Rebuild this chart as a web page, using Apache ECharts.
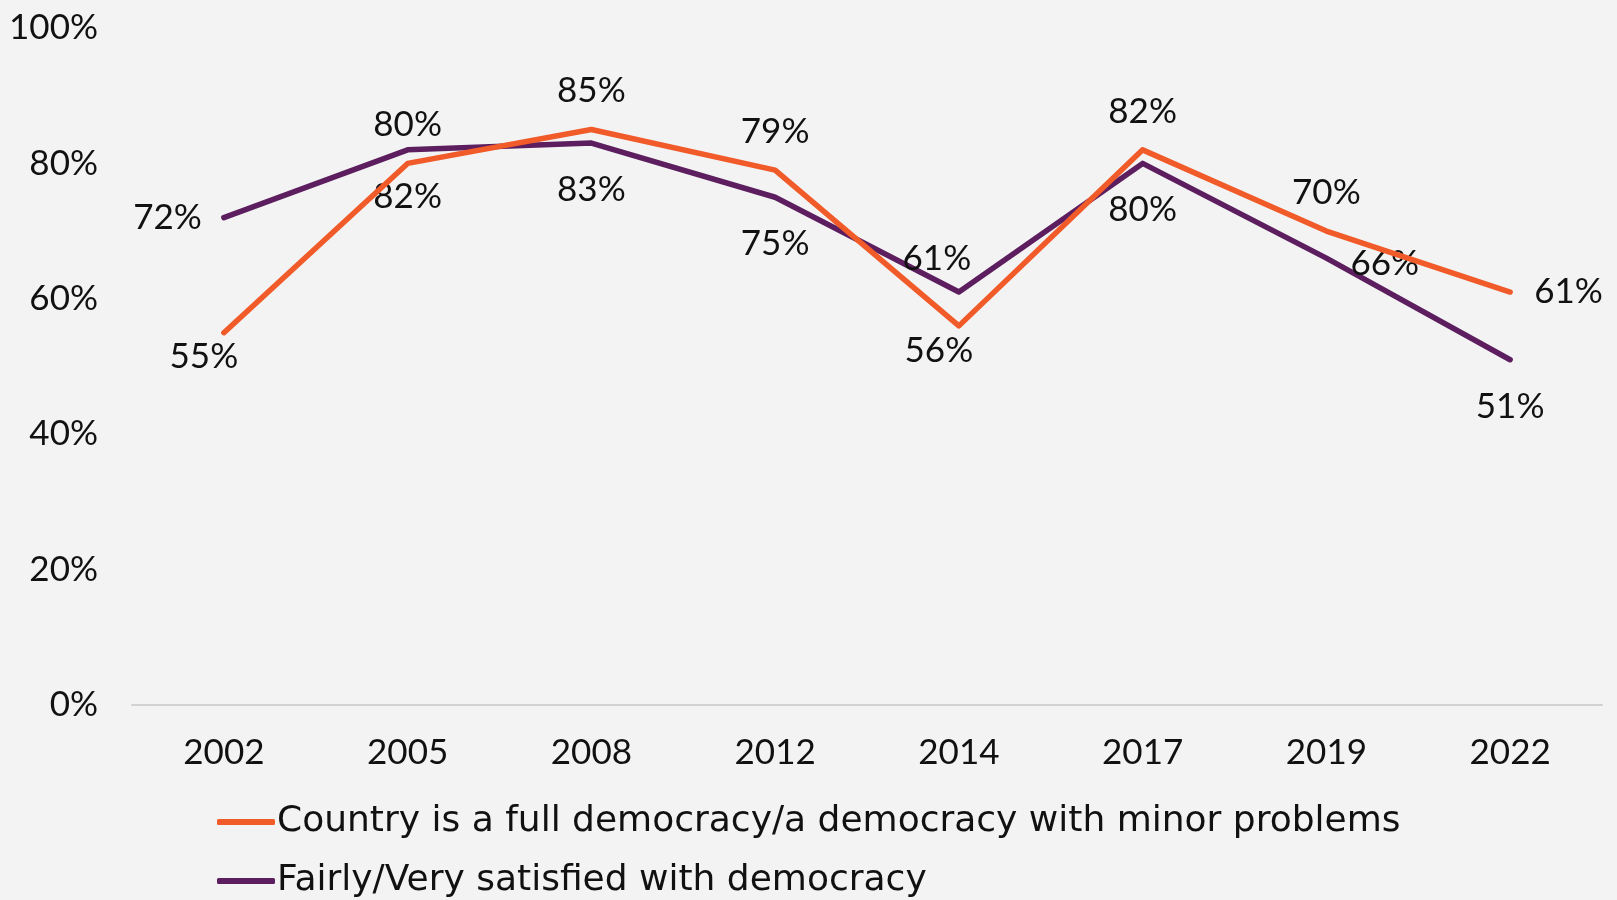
<!DOCTYPE html>
<html>
<head>
<meta charset="utf-8">
<script src="https://cdn.jsdelivr.net/npm/echarts@6/dist/echarts.min.js"></script>
<style>
  html, body { margin:0; padding:0; background:#f3f3f3; }
  #chart { width:1617px; height:900px; }
</style>
</head>
<body>
<div id="chart"></div>
<script>
const years = ['2002','2005','2008','2012','2014','2017','2019','2022'];
const fullDemocracy = [55, 80, 85, 79, 56, 82, 70, 61];
const satisfied = [72, 82, 83, 75, 61, 80, 66, 51];
const seriesNames = ['Country is a full democracy/a democracy with minor problems', 'Fairly/Very satisfied with democracy'];
const yTicks = [0, 20, 40, 60, 80, 100];

// label placement per point (style, not data)
const fullPos = ['bottomL','top','top','top','bottomL','top','top','right'];
const satPos  = ['left','bottom','bottom','bottom','topL','bottom','rightD','bottom'];

const FONT = 'Lato';
const LFONT = 'DejaVu Sans';
const FS = 35;
const ORANGE = '#f15a29';
const PURPLE = '#5c1e5f';

function labelCfg(p) {
  const base = { show: true, formatter: '{c}%', fontFamily: FONT, fontSize: FS, color: '#111' };
  switch (p) {
    case 'top': return Object.assign(base, { position: 'top', distance: 19 });
    case 'topL': return Object.assign(base, { position: 'top', distance: 14, offset: [-22, 0] });
    case 'bottom': return Object.assign(base, { position: 'bottom', distance: 27 });
    case 'bottomL': return Object.assign(base, { position: 'bottom', distance: 5, offset: [-20, 0] });
    case 'left': return Object.assign(base, { position: 'left', distance: 20 });
    case 'right': return Object.assign(base, { position: 'right', distance: 22 });
    case 'rightD': return Object.assign(base, { position: 'right', distance: 22, offset: [0, 6] });
  }
}
function build(values, pos) {
  return values.map((v, i) => ({ value: v, label: labelCfg(pos[i]) }));
}

function legendFor(name, color, top) {
  return {
    left: 212,
    top: top,
    icon: 'roundRect',
    itemWidth: 58,
    itemHeight: 6,
    selectedMode: false,
    itemStyle: { color: color, opacity: 1 },
    textStyle: { fontFamily: LFONT, fontSize: 36, color: '#111', padding: [0,0,0,-3] },
    data: [name]
  };
}

const chart = echarts.init(document.getElementById('chart'));
chart.setOption({
  backgroundColor: '#f3f3f3',
  animation: false,
  grid: { left: 132, right: 15, top: 28, bottom: 195, containLabel: false },
  legend: [
    legendFor(seriesNames[0], ORANGE, 799),
    legendFor(seriesNames[1], PURPLE, 858)
  ],
  xAxis: {
    type: 'category',
    data: years,
    boundaryGap: true,
    axisLine: { show: true, lineStyle: { color: '#d2d2d2', width: 2 } },
    axisTick: { show: false },
    axisLabel: { fontFamily: FONT, fontSize: FS, color: '#111', margin: 30 }
  },
  yAxis: {
    type: 'value',
    min: yTicks[0],
    max: yTicks[yTicks.length - 1],
    interval: 20,
    axisLine: { show: false },
    axisTick: { show: false },
    splitLine: { show: false },
    axisLabel: { fontFamily: FONT, fontSize: FS, color: '#111', margin: 34, formatter: '{value}%' }
  },
  series: [
    {
      name: seriesNames[0], type: 'line', data: build(fullDemocracy, fullPos),
      symbol: 'circle', symbolSize: 4, showSymbol: true,
      lineStyle: { color: ORANGE, width: 5.5, cap: 'round', join: 'round' },
      itemStyle: { color: ORANGE }, z: 3
    },
    {
      name: seriesNames[1], type: 'line', data: build(satisfied, satPos),
      symbol: 'circle', symbolSize: 4, showSymbol: true,
      lineStyle: { color: PURPLE, width: 5.5, cap: 'round', join: 'round' },
      itemStyle: { color: PURPLE }, z: 2
    }
  ]
});
</script>
</body>
</html>
